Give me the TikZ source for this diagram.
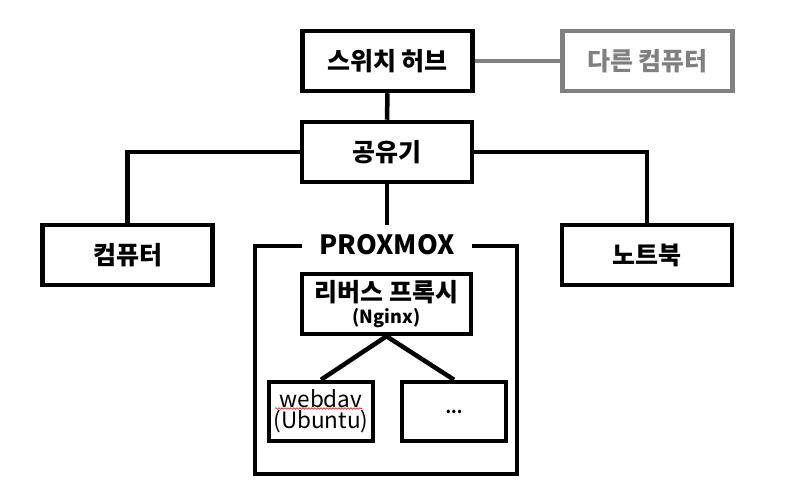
\documentclass[tikz,border=0pt]{standalone}
\usepackage{fontspec}
\setmainfont{Noto Sans CJK KR}
\usetikzlibrary{calc,decorations.pathmorphing}
\definecolor{grayline}{HTML}{808080}
\tikzset{
  box/.style={draw=black, line width=4.5pt, minimum width=170pt, minimum height=60pt, inner sep=0pt, align=center, font=\fontsize{25}{27}\selectfont\bfseries},
  smallbox/.style={box, minimum width=104pt, minimum height=59pt},
  link/.style={line width=4.5pt, black},
}
\begin{document}
\begin{tikzpicture}[x=1pt,y=-1pt]
\useasboundingbox (0,0) rectangle (787,489);
\fill[white] (0,0) rectangle (787,489);
% PROXMOX frame
\draw[link] (255,246) rectangle (517,474);
\node[fill=white, minimum width=170pt, minimum height=40pt, inner sep=0pt, font=\fontsize{26.5}{28}\selectfont\bfseries] (prox) at (387,245) {PROXMOX};
% nodes
\node[box] (hub) at (387.5,61) {스위치 허브};
\node[box, draw=grayline, text=grayline] (other) at (647.5,61) {다른 컴퓨터};
\node[box] (router) at (387,152) {공유기};
\node[box] (pc) at (127.5,255) {컴퓨터};
\node[box] (laptop) at (647,255) {노트북};
\node[box, minimum width=169pt] (rp) at (386.5,304) {리버스 프록시\\[-5pt]{\fontsize{18}{20}\selectfont (Nginx)}};
\node[smallbox, font=\fontsize{22.5}{24}\selectfont] (web) at (321,411.5) {webdav\\[-3pt](Ubuntu)};
\node[smallbox, font=\fontsize{16}{18}\selectfont\bfseries] (more) at (454,411.5) {...};
% connectors
\draw[line width=4.5pt, grayline] (hub.east) -- (other.west);
\draw[link] (hub.south) -- (router.north);
\draw[link] (router.west) -| (pc.north);
\draw[link] (router.east) -| (laptop.north);
\draw[link] (router.south) -- (prox.north);
\draw[link] (rp.south) -- (web.north);
\draw[link] (rp.south) -- (more.north);
% spell-check squiggle
\draw[red, line width=0.6pt, decorate, decoration={snake, amplitude=0.8pt, segment length=3pt}] ($(web.center)+(-46,-3)$) -- ($(web.center)+(41,-3)$);
\end{tikzpicture}
\end{document}
